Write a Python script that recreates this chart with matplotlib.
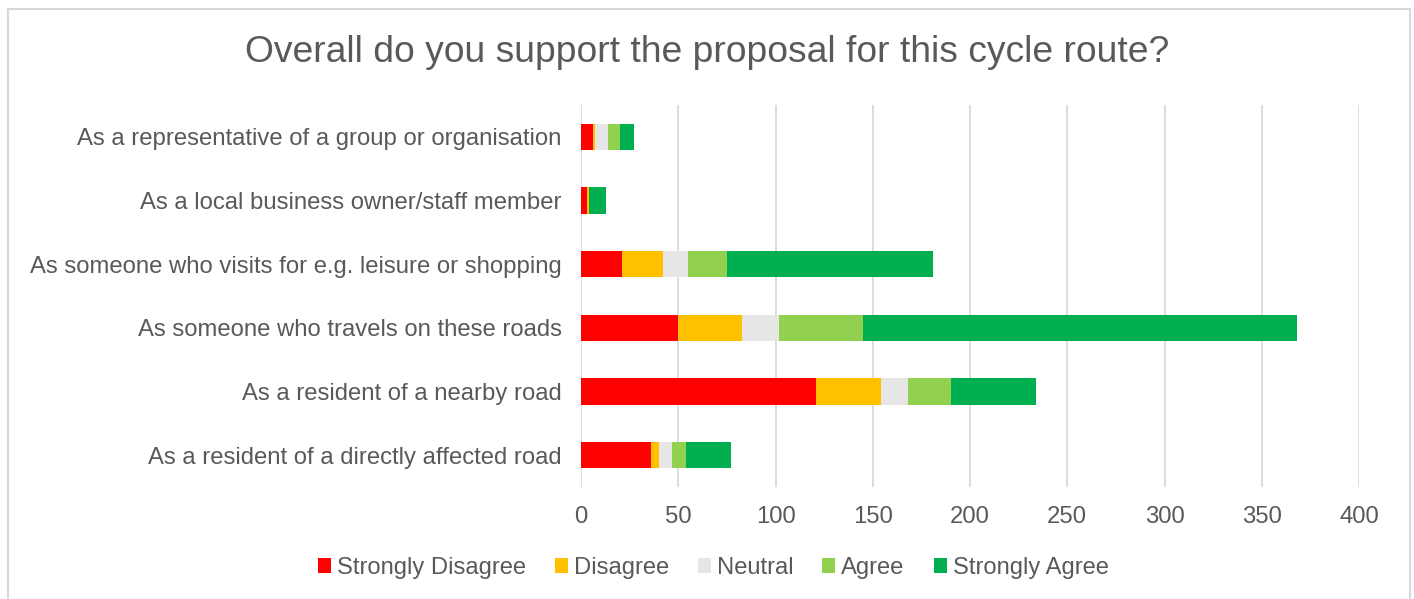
import matplotlib.pyplot as plt
from matplotlib.patches import Rectangle
import numpy as np

plt.rcParams['font.family'] = ['Liberation Sans', 'DejaVu Sans']

categories = [
    'As a resident of a directly affected road',
    'As a resident of a nearby road',
    'As someone who travels on these roads',
    'As someone who visits for e.g. leisure or shopping',
    'As a local business owner/staff member',
    'As a representative of a group or organisation',
]
strongly_disagree = [36, 121, 50, 21, 3, 6]
disagree = [4, 33, 33, 21, 1, 1]
neutral = [7, 14, 19, 13, 0, 7]
agree = [7, 22, 43, 20, 0, 6]
strongly_agree = [23, 44, 223, 106, 9, 7]

series = ['Strongly Disagree', 'Disagree', 'Neutral', 'Agree', 'Strongly Agree']
colors = ['#FF0000', '#FFC000', '#E7E6E6', '#92D050', '#00B050']
text_col = '#595959'

W, H = 1414, 599
fig = plt.figure(figsize=(W / 100, H / 100), dpi=100)
ax = fig.add_axes([581 / W, 1 - 487 / H, (1359 - 581) / W, (487 - 105) / H])

y = np.arange(len(categories))
left = np.zeros(len(categories))
for name, vals, c in zip(series, [strongly_disagree, disagree, neutral, agree, strongly_agree], colors):
    ax.barh(y, vals, left=left, height=0.41, color=c, label=name, zorder=3)
    left += np.array(vals)

ax.set_xlim(0, 400)
ax.set_ylim(-0.5, len(categories) - 0.5)
ax.set_xticks(range(0, 401, 50))
ax.set_yticks(y)
ax.set_yticklabels(categories)
ax.grid(axis='x', color='#D9D9D9', linewidth=1.3, zorder=0)
for s in ax.spines.values():
    s.set_visible(False)
ax.tick_params(length=0, labelsize=17.2, labelcolor=text_col)
ax.tick_params(axis='y', pad=14)
ax.tick_params(axis='x', pad=14)

fig.text(0.5, 1 - 52 / H, 'Overall do you support the proposal for this cycle route?',
         ha='center', va='center', fontsize=26.8, color=text_col)

fig.legend(loc='center', bbox_to_anchor=(713 / W, 1 - 568 / H), ncol=5, frameon=False,
           fontsize=17.1, labelcolor=text_col, handlelength=0.55, handleheight=0.55,
           handletextpad=0.25, columnspacing=1.22)

fig.patches.append(Rectangle((8 / W, -0.05), (1410 - 8) / W, 1.05 - 9 / H,
                             transform=fig.transFigure, fill=False,
                             edgecolor='#D9D9D9', linewidth=1.5))

fig.savefig('out.png', dpi=100)
